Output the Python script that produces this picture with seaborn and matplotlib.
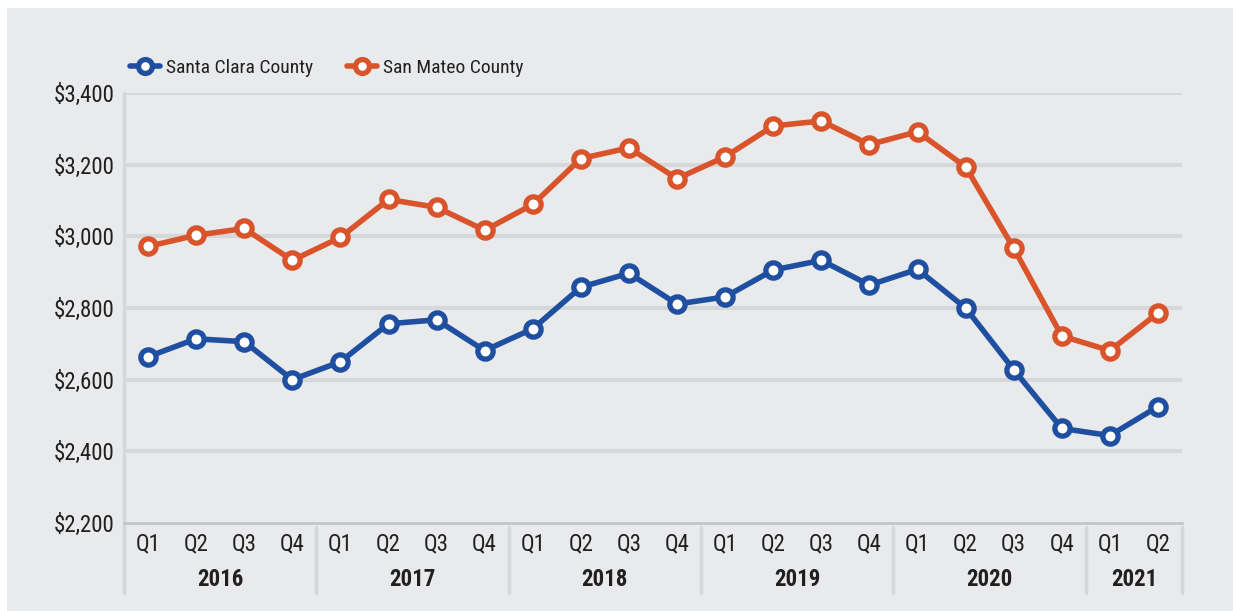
import matplotlib
matplotlib.use("Agg")
import matplotlib.pyplot as plt
import matplotlib.transforms as mtransforms
from matplotlib import font_manager
from matplotlib.patches import Rectangle
from matplotlib.lines import Line2D
import pandas as pd
import seaborn as sns

# Data (median monthly rent, quarterly)
years = ["2016", "2017", "2018", "2019", "2020", "2021"]
quarters_per_year = [4, 4, 4, 4, 4, 2]
quarter_labels = ["Q1", "Q2", "Q3", "Q4"] * 5 + ["Q1", "Q2"]
santa_clara = [2664, 2714, 2706, 2600, 2650, 2756, 2767, 2681, 2742, 2858, 2897, 2811,
               2831, 2906, 2933, 2864, 2908, 2800, 2628, 2464, 2444, 2525]
san_mateo = [2972, 3003, 3022, 2933, 2997, 3103, 3081, 3017, 3089, 3217, 3247, 3161,
             3222, 3308, 3322, 3256, 3292, 3194, 2967, 2722, 2681, 2786]
series_names = ["Santa Clara County", "San Mateo County"]
y_ticks = [2200, 2400, 2600, 2800, 3000, 3200, 3400]

BLUE = "#1f4fa0"
ORANGE = "#d9542a"
BG = "#e9eaec"
GRID = "#d6d7d9"
TEXT = "#231f20"

sns.set_theme(style="white")
installed = {f.name for f in font_manager.fontManager.ttflist}
narrow = [f for f in ["Liberation Sans Narrow", "Roboto Condensed", "Open Sans Condensed"] if f in installed]
plt.rcParams["font.family"] = narrow + ["DejaVu Sans"]
plt.rcParams["font.stretch"] = "condensed"
FS = 16.5 if narrow else 13
LFS = 14 if narrow else 12

n = len(quarter_labels)
df = pd.DataFrame({
    "idx": list(range(n)) * 2,
    "rent": santa_clara + san_mateo,
    "county": [series_names[0]] * n + [series_names[1]] * n,
})

fig = plt.figure(figsize=(12.33, 6.11), dpi=100, facecolor="white")
fig.patches.append(Rectangle((7 / 1233, 0), 1 - 7 / 1233, 1 - 8 / 611, transform=fig.transFigure,
                             facecolor=BG, edgecolor="none", zorder=-5))
ax = fig.add_axes([124 / 1233, 1 - 523 / 611, (1182 - 124) / 1233, (523 - 93) / 611])
ax.set_facecolor(BG)

sns.lineplot(data=df, x="idx", y="rent", hue="county", palette=[BLUE, ORANGE], marker="o",
             lw=4, markersize=11, ax=ax, legend=False, zorder=3)
for line, c in zip(ax.lines, [BLUE, ORANGE]):
    line.set_markerfacecolor("white")
    line.set_markeredgecolor(c)
    line.set_markeredgewidth(3.8)

ax.set_xlim(-0.5, n - 0.5)
ax.set_ylim(2200, 3400)
ax.set_yticks(y_ticks)
ax.set_yticklabels([f"${v:,}" for v in y_ticks], fontsize=FS, color=TEXT)
for v in y_ticks[1:]:
    ax.axhline(v, color=GRID, lw=3, zorder=1)
ax.set_xticks(range(n))
ax.set_xticklabels(quarter_labels, fontsize=FS, color=TEXT)
ax.tick_params(axis="x", length=0, pad=7)
ax.tick_params(axis="y", length=0, pad=7)
ax.set_xlabel(""); ax.set_ylabel("")
for s in ["top", "right", "left"]:
    ax.spines[s].set_visible(False)
ax.spines["bottom"].set_color("#c4c5c7"); ax.spines["bottom"].set_linewidth(2)

# Year groups with separators below the axis
trans = mtransforms.blended_transform_factory(ax.transData, ax.transAxes)
bottom = -(593 - 523) / (523 - 93)
start = 0
bounds = [-0.5]
for yr, cnt in zip(years, quarters_per_year):
    mid = start + (cnt - 1) / 2
    ax.text(mid, -(579 - 523) / (523 - 93), yr, transform=trans, ha="center", va="center",
            fontsize=FS, fontweight="bold", color=TEXT)
    start += cnt
    bounds.append(start - 0.5)
for i, b in enumerate(bounds):
    top = 1 if i == 0 else -0.01
    ax.add_line(Line2D([b, b], [bottom, top], transform=trans, color=GRID, lw=2.5, clip_on=False))

handles = [Line2D([], [], color=c, lw=4, marker="o", markersize=10, markerfacecolor="white",
                  markeredgecolor=c, markeredgewidth=3.8) for c in [BLUE, ORANGE]]
fig.legend(handles, series_names, loc="center left", bbox_to_anchor=(130 / 1233, 1 - 68 / 611),
           ncol=2, frameon=False, fontsize=LFS, handlelength=1.55, columnspacing=1.75,
           handletextpad=0.3, borderpad=0, borderaxespad=0, labelcolor=TEXT)

fig.savefig("out.png", dpi=100, facecolor="white")
